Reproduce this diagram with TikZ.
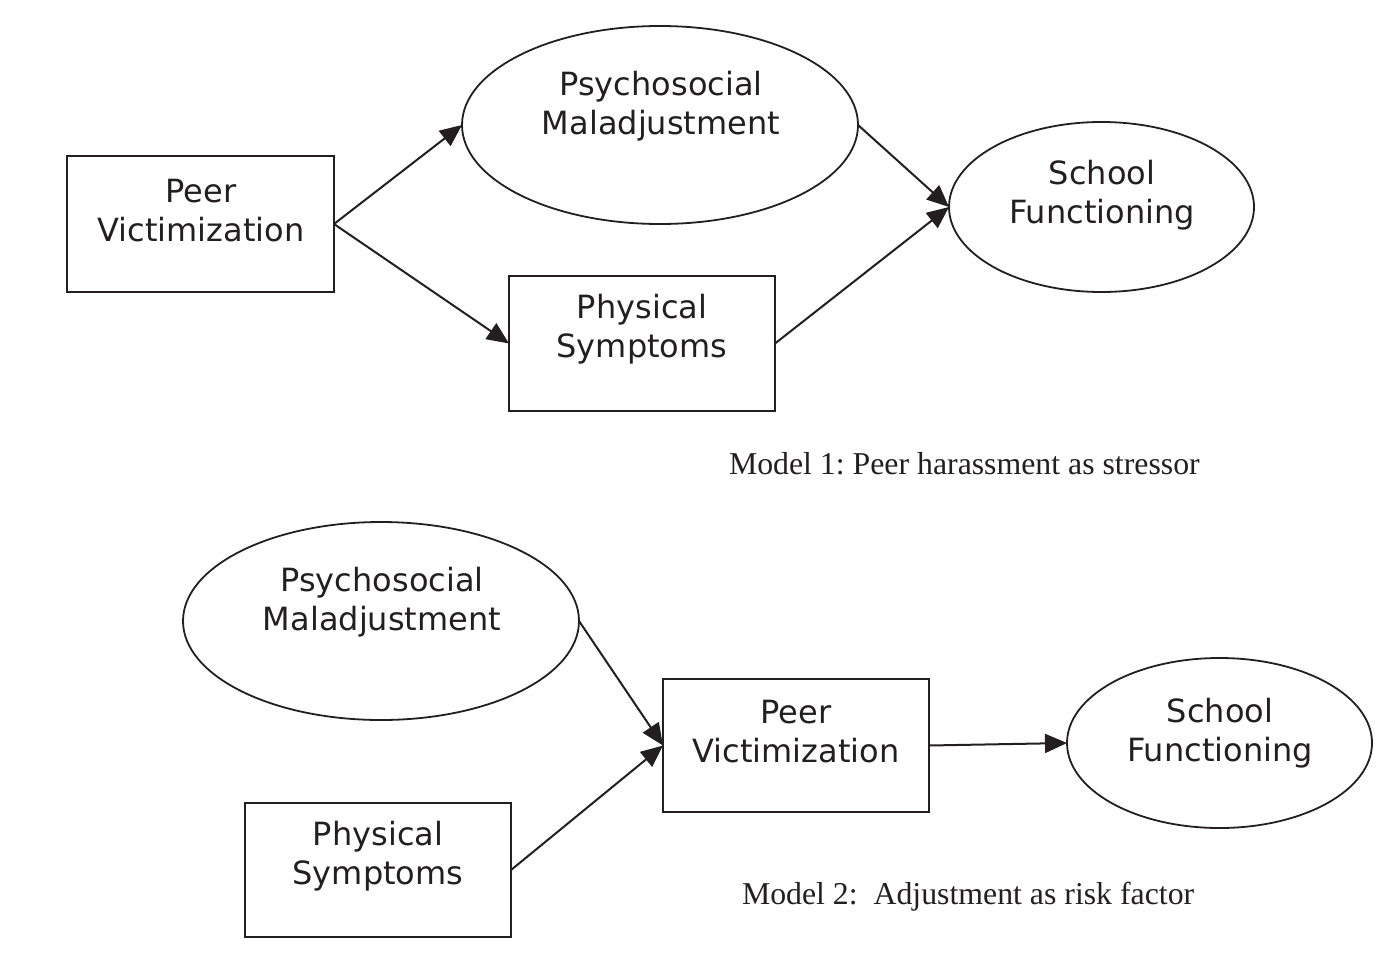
\documentclass[tikz,border=0pt]{standalone}
\usepackage{fontspec}
\setmainfont{DejaVu Sans}
\newfontfamily\capfont{Liberation Serif}
\usetikzlibrary{shapes.geometric,arrows.meta}
\definecolor{ink}{HTML}{231F20}
\frenchspacing
\begin{document}
\begin{tikzpicture}[x=0.5pt,y=-0.5pt,
  every node/.style={inner sep=0pt,outer sep=0pt},
  boxnode/.style={draw=ink,line width=1pt,rectangle},
  ellnode/.style={draw=ink,line width=0.9pt,ellipse},
  lbl/.style={text=ink,align=center,font=\fontsize{16}{19.5}\selectfont},
  captxt/.style={text=ink,anchor=base west,font=\capfont\fontsize{15.9}{18}\selectfont},
  conn/.style={draw=ink,line width=1pt,-{Triangle[length=11pt,width=9.5pt]}}]
\useasboundingbox (0,0) rectangle (1400,974);
% Model 1
\node[boxnode,minimum width=133.5pt,minimum height=68pt] (PV1) at (200.5,224) {};
\node[ellnode,minimum width=198pt,minimum height=99pt] (PM1) at (660,125) {};
\node[boxnode,minimum width=133pt,minimum height=67.5pt] (PS1) at (642,343.5) {};
\node[ellnode,minimum width=152.5pt,minimum height=85pt] (SF1) at (1101.5,207) {};
\node[lbl] (PV1t) at (201,210.5) {Peer\\Victimization};
\node[lbl] (PM1t) at (661,106) {Psychosocial\\Maladjustment};
\node[lbl] (PS1t) at (642,329) {Physical\\Symptoms};
\node[lbl] (SF1t) at (1102,195.5) {School\\Functioning};
\draw[conn] (PV1.east) -- (PM1.west);
\draw[conn] (PV1.east) -- (PS1.west);
\draw[conn] (PM1.east) -- (SF1.west);
\draw[conn] (PS1.east) -- (SF1.west);
\node[captxt] (C1) at (729,474) {Model 1: Peer harassment as stressor};
% Model 2
\node[ellnode,minimum width=198pt,minimum height=99pt] (PM2) at (381,621) {};
\node[boxnode,minimum width=133pt,minimum height=66.5pt] (PV2) at (796,745.5) {};
\node[boxnode,minimum width=133pt,minimum height=67pt] (PS2) at (378,870) {};
\node[ellnode,minimum width=152.5pt,minimum height=85pt] (SF2) at (1219.5,743) {};
\node[lbl] (PM2t) at (382,602) {Psychosocial\\Maladjustment};
\node[lbl] (PV2t) at (796,731.5) {Peer\\Victimization};
\node[lbl] (PS2t) at (378,856) {Physical\\Symptoms};
\node[lbl] (SF2t) at (1220,733) {School\\Functioning};
\draw[conn] (PM2.east) -- (PV2.west);
\draw[conn] (PS2.east) -- (PV2.west);
\draw[conn] (PV2.east) -- (SF2.west);
\node[captxt] (C2) at (742,904) {Model 2:~ Adjustment as risk factor};
\end{tikzpicture}
\end{document}
